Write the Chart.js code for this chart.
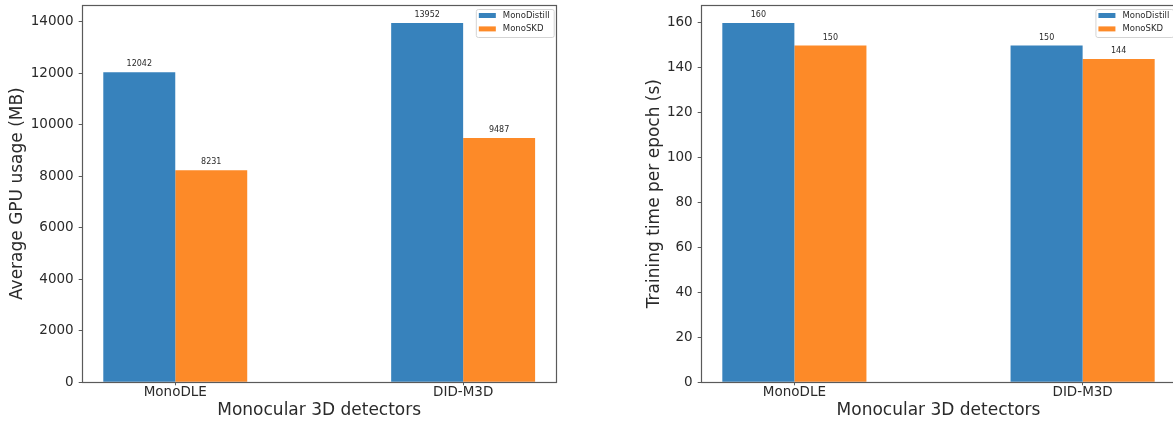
<!DOCTYPE html>
<html><head><meta charset="utf-8">
<script src="https://cdn.jsdelivr.net/npm/chart.js@4.4.0/dist/chart.umd.min.js"></script>
<style>
html,body{margin:0;padding:0;background:#fff;overflow:hidden;width:1173px;height:424px;position:relative;}
canvas{position:absolute;top:0;}
#c1{left:0;}
#c2{left:587px;}
</style></head><body>
<canvas id="c1" width="586" height="432"></canvas>
<canvas id="c2" width="600" height="432"></canvas>
<script>
const categories = ['MonoDLE', 'DID-M3D'];
const seriesNames = ['MonoDistill', 'MonoSKD'];
const gpuMonoDistill = [12042, 13952];
const gpuMonoSKD = [8231, 9487];
const timeMonoDistill = [160, 150];
const timeMonoSKD = [150, 144];
const gpuTicks = [0, 2000, 4000, 6000, 8000, 10000, 12000, 14000];
const timeTicks = [0, 20, 40, 60, 80, 100, 120, 140, 160];
const xTitle = 'Monocular 3D detectors';
const gpuTitle = 'Average GPU usage (MB)';
const timeTitle = 'Training time per epoch (s)';

const COLORS = ['#3782bc', '#fd8a28'];
const TEXT = '#2a2a2a';
const SPINE = '#5a5a5a';
const FONT = "'DejaVu Sans', sans-serif";

const framePlugin = {
  id: 'frame',
  afterDatasetsDraw(chart) {
    const {ctx, chartArea: a} = chart;
    ctx.save();
    // value labels
    ctx.font = '8px ' + FONT;
    ctx.fillStyle = TEXT;
    ctx.textAlign = 'center';
    ctx.textBaseline = 'middle';
    chart.data.datasets.forEach((ds, di) => {
      chart.getDatasetMeta(di).data.forEach((bar, i) => {
        ctx.fillText(String(ds.data[i].y), bar.x, bar.y - 8);
      });
    });
    // frame
    ctx.strokeStyle = SPINE;
    ctx.lineWidth = 1.2;
    const l = Math.round(a.left) + 0.5, t = Math.round(a.top) + 0.5;
    const r = Math.round(a.right) - 0.5, b = Math.round(a.bottom) + 0.5;
    ctx.strokeRect(l, t, r - l, b - t);
    // legend
    ctx.font = '8.5px ' + FONT;
    const names = chart.data.datasets.map(d => d.label);
    const tw = Math.max(...names.map(n => ctx.measureText(n).width));
    const boxW = 3 + 17 + 7 + tw + 4;
    const boxH = 28;
    const bx = a.right - 3 - boxW;
    const by = a.top + 4;
    ctx.fillStyle = 'rgba(255,255,255,0.85)';
    ctx.strokeStyle = '#d4d4d4';
    ctx.lineWidth = 1;
    ctx.beginPath();
    ctx.roundRect(bx + 0.5, by + 0.5, boxW, boxH, 2);
    ctx.fill();
    ctx.stroke();
    ctx.textAlign = 'left';
    ctx.textBaseline = 'middle';
    names.forEach((n, i) => {
      const cy = by + 6.5 + i * 13.4;
      ctx.fillStyle = chart.data.datasets[i].backgroundColor;
      ctx.fillRect(bx + 3, cy - 2.5, 17, 5);
      ctx.fillStyle = TEXT;
      ctx.fillText(n, bx + 27, cy);
    });
    ctx.restore();
  }
};

function makeChart(id, s1, s2, yTitle, yTicks, yMax, padLeft, padRight, yWidth, xHeight) {
  const toPts = arr => arr.map((v, i) => ({x: i, y: v}));
  return new Chart(document.getElementById(id), {
    type: 'bar',
    data: {
      datasets: [
        {label: seriesNames[0], data: toPts(s1), backgroundColor: COLORS[0], borderWidth: 0},
        {label: seriesNames[1], data: toPts(s2), backgroundColor: COLORS[1], borderWidth: 0}
      ]
    },
    options: {
      responsive: false,
      animation: false,
      devicePixelRatio: 1,
      layout: {padding: {left: padLeft, right: padRight, top: 5, bottom: 0}},
      categoryPercentage: 0.5,
      barPercentage: 1.0,
      plugins: {legend: {display: false}, tooltip: {enabled: false}},
      scales: {
        x: {
          type: 'linear',
          min: -0.325,
          max: 1.325,
          offset: false,
          afterBuildTicks: s => { s.ticks = categories.map((c, i) => ({value: i})); },
          afterFit: s => { s.height = xHeight; s.paddingLeft = 0; s.paddingRight = 0; },
          grid: {display: true, offset: false, drawOnChartArea: false, drawTicks: true, tickLength: 3, color: SPINE},
          border: {display: false},
          ticks: {
            padding: -0.5,
            color: TEXT,
            font: {family: FONT, size: 13.5},
            maxRotation: 0,
            callback: v => categories[v] ?? ''
          },
          title: {display: true, text: xTitle, color: TEXT, font: {family: FONT, size: 17}, padding: {top: 0, bottom: 10.8}}
        },
        y: {
          min: 0,
          max: yMax,
          afterBuildTicks: s => { s.ticks = yTicks.map(v => ({value: v})); },
          afterFit: s => { s.width = yWidth; s.paddingTop = 0; s.paddingBottom = 0; },
          grid: {display: true, offset: false, drawOnChartArea: false, drawTicks: true, tickLength: 3, color: SPINE},
          border: {display: false},
          ticks: {padding: 5, color: TEXT, font: {family: FONT, size: 13.5}, callback: v => String(v)},
          title: {display: true, text: yTitle, color: TEXT, font: {family: FONT, size: 17}, padding: {top: 6.9, bottom: 0}}
        }
      }
    },
    plugins: [framePlugin]
  });
}

makeChart('c1', gpuMonoDistill, gpuMonoSKD, gpuTitle, gpuTicks, 14650, 0, 586 - 556.7, 81.7, 432 - 382.3);
makeChart('c2', timeMonoDistill, timeMonoSKD, timeTitle, timeTicks, 168, 50.7, 600 - 589.3, 113.7 - 50.7, 432 - 382.3);
</script>
</body></html>
